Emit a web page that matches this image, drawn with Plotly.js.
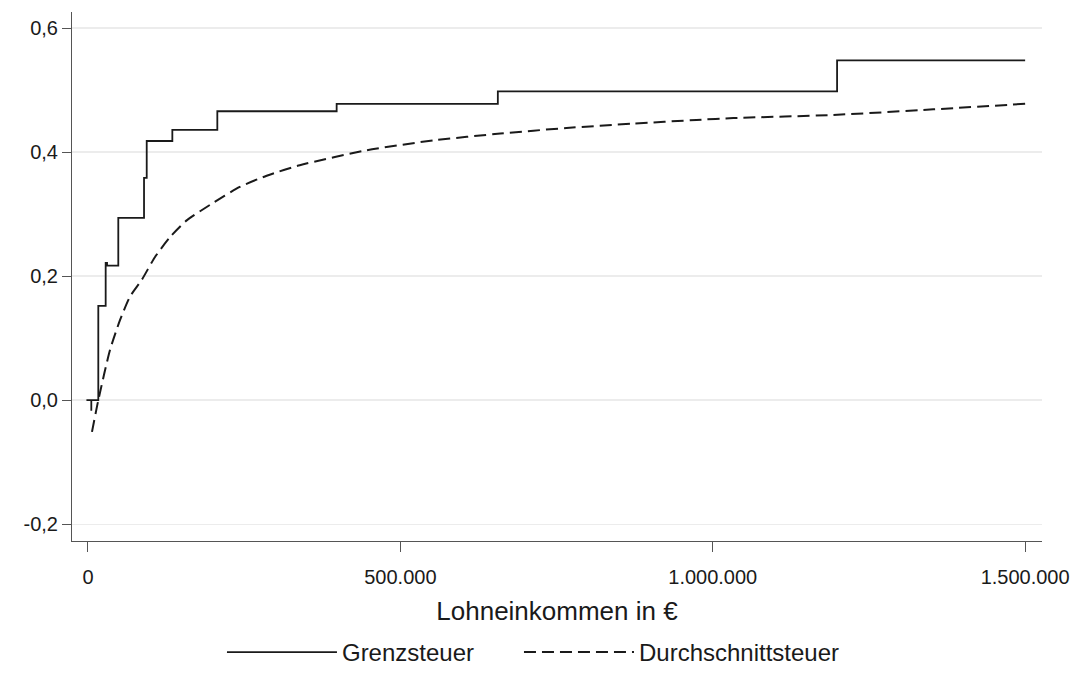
<!DOCTYPE html>
<html>
<head>
<meta charset="utf-8">
<script src="https://cdn.plot.ly/plotly-3.0.1.min.js"></script>
<style>html,body{margin:0;padding:0;background:#fff;}#chart{width:1070px;height:675px;}</style>
</head>
<body>
<div id="chart"></div>
<script>
// Grenzsteuer (marginal tax rate), step breakpoints
const grenzX = [-2500, 5300, 5300, 16500, 28300, 30500, 48500, 89700, 94000, 135000, 207000, 398000, 656000, 1199000, 1500000];
const grenzY = [0, -0.017, 0, 0.152, 0.2215, 0.217, 0.294, 0.3586, 0.418, 0.436, 0.466, 0.478, 0.498, 0.548, 0.548];

// Durchschnittsteuer (average tax rate)
const avgX = [6400, 16500, 35200, 51200, 67200, 86000, 107300, 131300, 158000, 195300, 243000, 286000, 339000, 446000, 553000, 660000, 766000, 873000, 974000, 1033000, 1193000, 1353000, 1500000];
const avgY = [-0.051, 0.0, 0.081, 0.129, 0.167, 0.194, 0.231, 0.263, 0.290, 0.315, 0.344, 0.362, 0.379, 0.403, 0.419, 0.430, 0.439, 0.446, 0.452, 0.455, 0.460, 0.469, 0.478];

const xTickVals = [0, 500000, 1000000, 1500000];
const xTickText = ["0", "500.000", "1.000.000", "1.500.000"];
const yTickVals = [-0.2, 0, 0.2, 0.4, 0.6];
const yTickText = ["-0,2", "0,0", "0,2", "0,4", "0,6"];

const font = "Liberation Sans, Arial, sans-serif";

const traces = [
  {x: grenzX, y: grenzY, type: 'scatter', mode: 'lines', name: 'Grenzsteuer', legend: 'legend',
   line: {color: '#1a1a1a', width: 1.8, shape: 'hv'}},
  {x: avgX, y: avgY, type: 'scatter', mode: 'lines', name: 'Durchschnittsteuer', legend: 'legend2',
   line: {color: '#1a1a1a', width: 2, dash: '12px,6px', shape: 'spline', smoothing: 0.6}}
];

const legendBase = {
  orientation: 'h', xref: 'paper', xanchor: 'left',
  yref: 'container', y: 0, yanchor: 'bottom',
  font: {family: font, size: 24, color: '#1a1a1a'}, itemwidth: 110,
  bgcolor: 'rgba(0,0,0,0)'
};

const layout = {
  width: 1070, height: 675,
  margin: {l: 72, r: 28, t: 12, b: 134},
  paper_bgcolor: '#fff', plot_bgcolor: '#fff',
  showlegend: true,
  legend: Object.assign({}, legendBase, {x: 0.1546}),
  legend2: Object.assign({}, legendBase, {x: 0.4608}),
  xaxis: {
    range: [-25600, 1527000], tickvals: xTickVals, ticktext: xTickText,
    showgrid: false, zeroline: false, showline: true, linecolor: '#555', linewidth: 1,
    ticks: 'outside', ticklen: 10, tickcolor: '#555', tickwidth: 1, ticklabelstandoff: 8,
    tickfont: {family: font, size: 20, color: '#1a1a1a'},
    title: {text: 'Lohneinkommen in €', font: {family: font, size: 26, color: '#1a1a1a'}, standoff: 14},
    automargin: false
  },
  yaxis: {
    range: [-0.227, 0.626], tickvals: yTickVals, ticktext: yTickText,
    showgrid: true, gridcolor: '#ececec', gridwidth: 1.5, zeroline: false,
    showline: true, linecolor: '#555', linewidth: 1,
    ticks: 'outside', ticklen: 9, tickcolor: '#555', tickwidth: 1,
    tickfont: {family: font, size: 20, color: '#1a1a1a'},
    automargin: false
  }
};

Plotly.newPlot('chart', traces, layout, {displayModeBar: false, staticPlot: true});
</script>
</body>
</html>
